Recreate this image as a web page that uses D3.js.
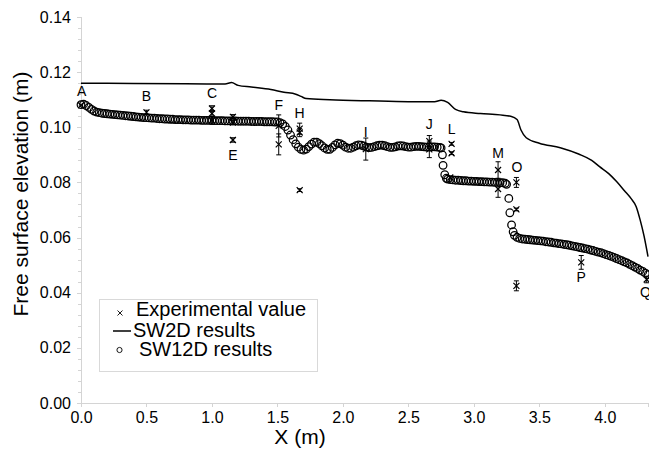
<!DOCTYPE html>
<html><head><meta charset="utf-8">
<script src="https://cdn.jsdelivr.net/npm/d3@7"></script>
<style>
body{margin:0;background:#fff}
svg{display:block}
text{font-family:"Liberation Sans",Arial,Helvetica,sans-serif;fill:#000}
</style>
</head><body>
<svg id="chart" width="649" height="450"></svg>
<script>
// ---------- data ----------
const xTickValues = [0, 0.5, 1.0, 1.5, 2.0, 2.5, 3.0, 3.5, 4.0];
const xTickLabels = ["0.0","0.5","1.0","1.5","2.0","2.5","3.0","3.5","4.0"];
const yTickValues = [0, 0.02, 0.04, 0.06, 0.08, 0.10, 0.12, 0.14];
const yTickLabels = ["0.00","0.02","0.04","0.06","0.08","0.10","0.12","0.14"];

// SW2D results (solid line)
const sw2d = [
 [0.00,0.1160],[0.40,0.1159],[0.80,0.1158],[1.10,0.1157],[1.15,0.1162],[1.20,0.1152],
 [1.30,0.1146],[1.45,0.1137],[1.55,0.1127],[1.64,0.1120],[1.68,0.1112],[1.72,0.1104],
 [1.90,0.1100],[2.20,0.1096],[2.50,0.1093],[2.70,0.1093],[2.75,0.1098],[2.80,0.1090],
 [2.86,0.1065],[2.92,0.1056],[3.05,0.1050],[3.20,0.1045],[3.28,0.1040],[3.33,0.1028],
 [3.36,0.0990],[3.40,0.0962],[3.50,0.0942],[3.66,0.0926],[3.80,0.0903],[3.90,0.0880],
 [3.96,0.0857],[4.03,0.0832],[4.09,0.0803],[4.15,0.0770],[4.20,0.0742],[4.24,0.0712],
 [4.27,0.0664],[4.30,0.0605],[4.33,0.0531]
];

// SW12D results (circles)
const sw12d = [
 [0.00,0.1082],[0.02,0.1084],[0.04,0.1079],[0.06,0.1072],[0.08,0.1065],[0.10,0.1059],
 [0.12,0.1055],[0.14,0.1053],[0.16,0.1051],[0.18,0.1050],[0.20,0.1049],[0.22,0.1048],
 [0.24,0.1047],[0.26,0.1046],[0.28,0.1045],[0.30,0.1044],[0.32,0.1043],[0.34,0.1042],
 [0.36,0.1041],[0.38,0.1040],[0.40,0.1039],[0.42,0.1038],[0.44,0.1037],[0.46,0.1036],
 [0.48,0.1035],[0.50,0.1035],[0.52,0.1034],[0.54,0.1033],[0.56,0.1033],[0.58,0.1032],
 [0.60,0.1031],[0.62,0.1031],[0.64,0.1030],[0.66,0.1030],[0.68,0.1029],[0.70,0.1029],
 [0.72,0.1028],[0.74,0.1028],[0.76,0.1028],[0.78,0.1027],[0.80,0.1027],[0.82,0.1027],
 [0.84,0.1026],[0.86,0.1026],[0.88,0.1026],[0.90,0.1026],[0.92,0.1025],[0.94,0.1025],
 [0.96,0.1025],[0.98,0.1025],[1.00,0.1025],[1.02,0.1024],[1.04,0.1024],[1.06,0.1024],
 [1.08,0.1024],[1.10,0.1023],[1.12,0.1023],[1.14,0.1023],[1.16,0.1023],[1.18,0.1023],
 [1.20,0.1022],[1.22,0.1022],[1.24,0.1022],[1.26,0.1022],[1.28,0.1022],[1.30,0.1021],
 [1.32,0.1021],[1.34,0.1021],[1.36,0.1021],[1.38,0.1021],[1.40,0.1020],[1.42,0.1020],
 [1.44,0.1020],[1.46,0.1020],[1.48,0.1019],[1.50,0.1019],[1.52,0.1017],[1.54,0.1012],
 [1.56,0.1003],[1.58,0.0990],[1.60,0.0972],[1.62,0.0955],[1.64,0.0940],[1.66,0.0928],
 [1.68,0.0920],[1.70,0.0917],[1.72,0.0921],[1.74,0.0930],[1.76,0.0939],[1.78,0.0946],
 [1.80,0.0946],[1.82,0.0941],[1.84,0.0933],[1.86,0.0925],[1.88,0.0920],[1.90,0.0920],
 [1.92,0.0927],[1.94,0.0936],[1.96,0.0942],[1.98,0.0941],[2.00,0.0935],[2.02,0.0928],
 [2.04,0.0924],[2.06,0.0924],[2.08,0.0928],[2.10,0.0933],[2.12,0.0936],[2.14,0.0935],
 [2.16,0.0932],[2.18,0.0928],[2.20,0.0926],[2.22,0.0927],[2.24,0.0930],[2.26,0.0933],
 [2.28,0.0935],[2.30,0.0935],[2.32,0.0933],[2.34,0.0930],[2.36,0.0927],[2.38,0.0927],
 [2.40,0.0929],[2.42,0.0932],[2.44,0.0933],[2.46,0.0932],[2.48,0.0930],[2.50,0.0928],
 [2.52,0.0928],[2.54,0.0930],[2.56,0.0931],[2.58,0.0931],[2.60,0.0930],[2.62,0.0929],
 [2.64,0.0928],[2.66,0.0928],[2.68,0.0929],[2.70,0.0929],[2.72,0.0928],[2.74,0.0927],
 [2.75,0.0925],[2.760,0.0900],[2.765,0.0862],[2.778,0.0828],[2.790,0.0815],
 [2.80,0.0812],[2.82,0.0810],[2.84,0.0809],[2.86,0.0808],[2.88,0.0808],[2.90,0.0807],
 [2.92,0.0806],[2.94,0.0806],[2.96,0.0805],[2.98,0.0805],[3.00,0.0804],[3.02,0.0804],
 [3.04,0.0803],[3.06,0.0803],[3.08,0.0802],[3.10,0.0802],[3.12,0.0801],[3.14,0.0801],
 [3.16,0.0800],[3.18,0.0800],[3.20,0.0799],[3.22,0.0799],[3.24,0.0797],[3.25,0.0793],
 [3.267,0.0742],[3.275,0.0690],[3.288,0.0646],[3.300,0.0621],
 [3.31,0.0608],[3.33,0.0601],[3.35,0.0597],[3.37,0.0595],[3.39,0.0594],[3.41,0.0593],
 [3.43,0.0592],[3.45,0.0591],[3.47,0.0590],[3.49,0.0589],[3.51,0.0588],[3.53,0.0587],
 [3.55,0.0585],[3.57,0.0584],[3.59,0.0583],[3.61,0.0581],[3.63,0.0580],[3.65,0.0578],
 [3.67,0.0577],[3.69,0.0575],[3.71,0.0574],[3.73,0.0572],[3.75,0.0570],[3.77,0.0568],
 [3.79,0.0566],[3.81,0.0564],[3.83,0.0562],[3.85,0.0560],[3.87,0.0558],[3.89,0.0555],
 [3.91,0.0553],[3.93,0.0550],[3.95,0.0547],[3.97,0.0545],[3.99,0.0542],[4.01,0.0538],
 [4.03,0.0535],[4.05,0.0532],[4.07,0.0528],[4.09,0.0524],[4.11,0.0520],[4.13,0.0516],
 [4.15,0.0512],[4.17,0.0508],[4.19,0.0503],[4.21,0.0498],[4.23,0.0493],[4.25,0.0488],
 [4.27,0.0482],[4.29,0.0477],[4.31,0.0471],[4.33,0.0465]
];

// Experimental values with error half-widths
const expX   = [0.00, 0.50, 1.00, 1.00, 1.00, 1.16, 1.16, 1.16, 1.51, 1.51, 1.67, 1.67, 1.67, 2.175, 2.66, 2.66, 2.83, 2.83, 2.82, 3.185, 3.185, 3.325, 3.325, 3.325, 3.82, 4.32];
const expY   = [0.1080,0.1054,0.1068,0.1050,0.1025,0.1038,0.1017,0.0954,0.1005,0.0938,0.0995,0.0981,0.0772,0.0921,0.0950,0.0920,0.0940,0.0906,0.0818,0.0845,0.0776,0.0800,0.0702,0.0425,0.0510,0.0448];
const expErr = [0,     0.0008,0.0010,0.0010,0.0014,0.0008,0.0008,0.0008,0.0040,0.0038,0.0020,0.0015,0.0005,0.0040,0.0020,0.0030,0.0005,0.0005,0,     0.0030,0.0030,0.0018,0.0005,0.0018,0.0025,0.0012];

// Gauge labels
const gaugeNames = ["A","B","C","E","F","H","I","J","L","M","O","P","Q"];
const gaugeX = [0.005,0.50,1.00,1.16,1.51,1.67,2.175,2.66,2.83,3.185,3.33,3.82,4.31];
const gaugeY = [0.1133,0.1114,0.1123,0.0900,0.1081,0.1053,0.0984,0.1012,0.0993,0.0906,0.0855,0.0458,0.0404];

const legendItems = ["Experimental value","SW2D results","SW12D results"];

// ---------- drawing ----------
const svg = d3.select("#chart");
const x = d3.scaleLinear().domain([0, 4.33]).range([81, 648]);
const y = d3.scaleLinear().domain([0, 0.14]).range([403, 17]);
const axisColor = "#d4d4d4";

// Y minor ticks
const yMinor = d3.range(0, 0.1401, 0.004).filter(v => Math.abs(v/0.02 - Math.round(v/0.02)) > 1e-6);
svg.append("g").selectAll("line").data(yMinor).join("line")
  .attr("x1", 78).attr("x2", 81).attr("y1", d => Math.round(y(d))+0.5).attr("y2", d => Math.round(y(d))+0.5)
  .attr("stroke", axisColor).attr("stroke-width", 1);

const yAxis = svg.append("g").attr("transform","translate(81,0)")
  .call(d3.axisLeft(y).tickValues(yTickValues).tickFormat((d,i)=>yTickLabels[i]).tickSize(4).tickPadding(6));
const xAxis = svg.append("g").attr("transform","translate(0,403)")
  .call(d3.axisBottom(x).tickValues(xTickValues).tickFormat((d,i)=>xTickLabels[i]).tickSize(4).tickPadding(5));
[yAxis, xAxis].forEach(g => {
  g.select(".domain").attr("stroke", axisColor).attr("shape-rendering","crispEdges");
  g.selectAll(".tick line").attr("stroke", axisColor).attr("shape-rendering","crispEdges");
  g.selectAll(".tick text").attr("font-size", 16).attr("font-family","'Liberation Sans',Arial,sans-serif").attr("fill","#000");
});

// axis titles
svg.append("text").attr("transform","translate(28,194) rotate(-90)")
  .attr("text-anchor","middle").attr("font-size",21).text("Free surface elevation (m)");
svg.append("text").attr("x",300).attr("y",444)
  .attr("text-anchor","middle").attr("font-size",21).text("X (m)");

// SW2D line
svg.append("path").datum(sw2d)
  .attr("d", d3.line().x(d=>x(d[0])).y(d=>y(d[1])).curve(d3.curveMonotoneX))
  .attr("fill","none").attr("stroke","#000").attr("stroke-width",1.5);

// SW12D circles
svg.append("g").selectAll("circle").data(sw12d).join("circle")
  .attr("cx", d=>x(d[0])).attr("cy", d=>y(d[1])).attr("r", 3.8)
  .attr("fill","none").attr("stroke","#000").attr("stroke-width",1.25);

// Experimental values
const exp = expX.map((v,i)=>({x:v, y:expY[i], e:expErr[i]}));
const eg = svg.append("g").attr("stroke","#000").attr("stroke-width",1).attr("fill","none");
exp.filter(d=>d.e>0).forEach(d=>{
  const px = x(d.x), y1 = y(d.y - d.e), y2 = y(d.y + d.e);
  eg.append("line").attr("x1",px).attr("x2",px).attr("y1",y1).attr("y2",y2);
  eg.append("line").attr("x1",px-2.5).attr("x2",px+2.5).attr("y1",y1).attr("y2",y1);
  eg.append("line").attr("x1",px-2.5).attr("x2",px+2.5).attr("y1",y2).attr("y2",y2);
});
eg.selectAll("path").data(exp).join("path")
  .attr("transform", d=>`translate(${x(d.x)},${y(d.y)})`)
  .attr("stroke-width",1.2)
  .attr("d","M-3,-3L3,3M-3,3L3,-3");

// gauge labels
svg.append("g").selectAll("text").data(gaugeNames).join("text")
  .attr("x",(d,i)=>x(gaugeX[i])).attr("y",(d,i)=>y(gaugeY[i]))
  .attr("dy","0.36em").attr("text-anchor","middle").attr("font-size",14).text(d=>d);

// legend
const lg = svg.append("g");
lg.append("rect").attr("x",99.5).attr("y",299.5).attr("width",218).attr("height",72)
  .attr("fill","#fff").attr("stroke","#d9d9d9");
const ly = [316, 336.5, 356];
lg.append("path").attr("d",`M117.5,310.5L122.5,315.5M117.5,315.5L122.5,310.5`).attr("stroke","#000").attr("stroke-width",0.9);
lg.append("line").attr("x1",113).attr("x2",131).attr("y1",331).attr("y2",331).attr("stroke","#000").attr("stroke-width",1.5);
lg.append("circle").attr("cx",119.5).attr("cy",350).attr("r",2.6).attr("fill","#fff").attr("stroke","#000").attr("stroke-width",0.9);
lg.selectAll("text").data(legendItems).join("text")
  .attr("x",(d,i)=>[136,133,139][i]).attr("y",(d,i)=>ly[i]).attr("font-size",20).text(d=>d);
</script>
</body></html>
